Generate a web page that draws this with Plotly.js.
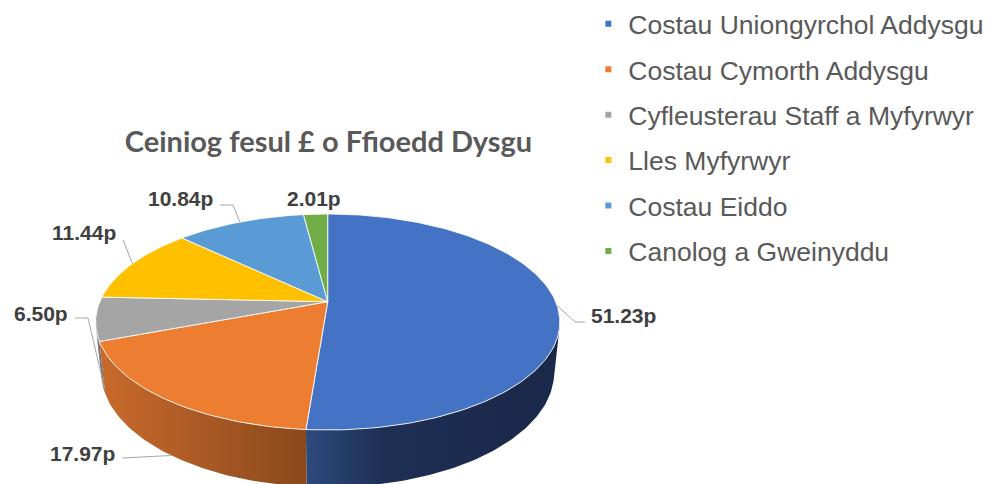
<!DOCTYPE html>
<html><head><meta charset="utf-8">
<script src="https://cdn.plot.ly/plotly-3.0.1.min.js"></script>
<style>html,body{margin:0;padding:0;background:#fff;} #chart{width:988px;height:484px;}</style>
</head><body><div id="chart"></div>
<script>
// ---- data ----
const categories = ['Costau Uniongyrchol Addysgu','Costau Cymorth Addysgu','Cyfleusterau Staff a Myfyrwyr','Lles Myfyrwyr','Costau Eiddo','Canolog a Gweinyddu'];
const values = [51.23, 17.97, 6.50, 11.44, 10.84, 2.01];
const valueLabels = ['51.23p','17.97p','6.50p','11.44p','10.84p','2.01p'];
const chartTitle = 'Ceiniog fesul £ o Ffioedd Dysgu';

// ---- styles ----
const topColors = ['#4472C4','#ED7D31','#A5A5A5','#FFC000','#5B9BD5','#70AD47'];
const wallScales = [
  [[0,'#2D4A7D'],[0.3,'#1E2F55'],[1,'#1A2848']],
  [[0,'#C96A2B'],[1,'#8A481C']],
  [[0,'#7C7C7C'],[1,'#6A6A6A']],
  [[0,'#BF9000'],[1,'#9F7800']],
  [[0,'#41729F'],[1,'#35608A']],
  [[0,'#548235'],[1,'#466E2C']]
];

// ---- 3D projection parameters (layout) ----
const CX = 327.7, CY = 301.7, R = 228, sinA = 0.457, cosA = Math.sqrt(1 - sinA*sinA), dCam = 4.73, H = 0.251;
const F = R * dCam;
function proj(phiDeg, z) {
  const p = phiDeg * Math.PI / 180, u = Math.sin(p), w = -Math.cos(p);
  const depth = dCam - w*cosA - z*sinA;
  return [CX + F*u/depth, CY + F*(w*sinA - z*cosA)/depth];
}
function arc(a0, a1, z) {
  const pts = [];
  const n = Math.max(2, Math.ceil(Math.abs(a1 - a0)));
  for (let i = 0; i <= n; i++) pts.push(proj(a0 + (a1 - a0)*i/n, z));
  return pts;
}

const total = values.reduce((s,v)=>s+v, 0);
const starts = [], ends = [];
let acc = 0;
values.forEach(v => { starts.push(acc/total*360); acc += v; ends.push(acc/total*360); });

const thr = Math.acos(-1/(dCam*cosA)) * 180 / Math.PI;
const traces = [];

// walls
values.forEach((v, i) => {
  const a = Math.max(starts[i], thr), b = Math.min(ends[i], 360 - thr);
  if (b <= a) return;
  const pts = arc(a, b, 0).concat(arc(b, a, -H));
  pts.push(pts[0]);
  traces.push({type:'scatter', mode:'lines', x: pts.map(p=>p[0]), y: pts.map(p=>p[1]),
    fill:'toself', fillcolor: topColors[i], fillgradient:{type:'horizontal', colorscale: wallScales[i]},
    line:{width:0, color: wallScales[i][0][1]}, hoverinfo:'skip', showlegend:false});
});

// top faces
values.forEach((v, i) => {
  const pts = [[CX, CY]].concat(arc(starts[i], ends[i], 0));
  pts.push([CX, CY]);
  traces.push({type:'scatter', mode:'lines', x: pts.map(p=>p[0]), y: pts.map(p=>p[1]),
    fill:'toself', fillcolor: topColors[i], line:{width:1, color:'rgba(255,255,255,0.85)'},
    hoverinfo:'skip', showlegend:false});
});

// label layout: text anchor, leader start/elbow, leader end on slice (t along slice, f fraction of depth)
const labelLayout = [
  {x:589, y:315, xa:'left',  lead:[[585,322],[575,322]], t:0.5, f:0},
  {x:117, y:453, xa:'right', lead:[[122,458]],           t:0.5, f:1},
  {x:70,  y:313, xa:'right', lead:[[75,318],[88,318]],   t:0,   f:0.9},
  {x:118, y:232, xa:'right', lead:[[123,240]],           t:0.5, f:0},
  {x:215, y:198, xa:'right', lead:[[220,205],[233,205]], t:0.5, f:0},
  {x:285, y:198, xa:'left',  lead:null}
];
const annotations = [];
labelLayout.forEach((L, i) => {
  annotations.push({x:L.x, y:L.y, xref:'x', yref:'y', xanchor:L.xa, yanchor:'middle', showarrow:false,
    text: valueLabels[i], font:{family:'Liberation Sans, Arial, sans-serif', size:21, color:'#404040', weight:700}});
  if (L.lead) {
    const end = proj(starts[i] + L.t*(ends[i]-starts[i]), -L.f*H);
    const pts = L.lead.concat([end]);
    traces.push({type:'scatter', mode:'lines', x: pts.map(p=>p[0]), y: pts.map(p=>p[1]),
      line:{width:1, color:'#A6A6A6'}, hoverinfo:'skip', showlegend:false});
  }
});

// legend entries
categories.forEach((c, i) => {
  traces.push({type:'scatter', mode:'markers', x:[null], y:[null], name:c, legendgroup:'g'+i,
    marker:{symbol:'square', size:6, color: topColors[i]}, showlegend:true, hoverinfo:'skip'});
});

const layout = {
  width:988, height:484,
  margin:{l:0, r:0, t:0, b:0, autoexpand:false},
  paper_bgcolor:'#ffffff', plot_bgcolor:'#ffffff',
  xaxis:{range:[0,988], visible:false, fixedrange:true},
  yaxis:{range:[484,0], visible:false, fixedrange:true},
  showlegend:true,
  legend:{x:0.5955, y:1.0, xanchor:'left', yanchor:'top', tracegroupgap:8, itemwidth:30, maxheight:470,
    font:{family:'Liberation Sans, Arial, sans-serif', size:26.5, color:'#595959'}, bgcolor:'rgba(0,0,0,0)'},
  title:{text: chartTitle, x: 328.5/988, y: 1 - 142/484, xref:'container', yref:'container', xanchor:'center', yanchor:'middle',
    font:{family:'Lato, Carlito, sans-serif', size:29, color:'#595959', weight:700}},
  annotations: annotations
};
Plotly.newPlot('chart', traces, layout, {staticPlot:true, displayModeBar:false});
</script>
</body></html>
